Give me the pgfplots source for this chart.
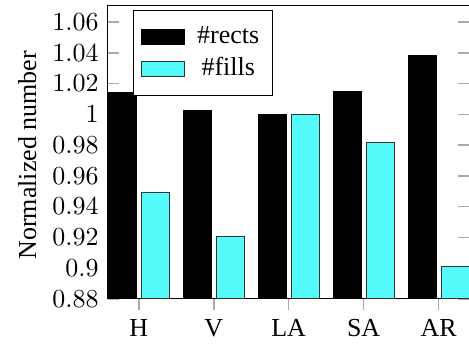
\documentclass[border=0pt]{standalone}
\usepackage{fontspec}
\setmainfont{Liberation Serif}
\usepackage{pgfplots}
\pgfplotsset{compat=1.18}
\definecolor{mycyan}{RGB}{85,250,250}
\definecolor{tickgray}{RGB}{170,170,170}
\begin{document}
\begin{tikzpicture}
\begin{axis}[
  scale only axis,
  width=139.2pt, height=112.7pt,
  ybar=1.9pt, bar width=10.8pt,
  ymin=0.88, ymax=1.0705,
  xmin=-0.413, xmax=4.413,
  xtick=data,
  xticklabels={H,V,LA,SA,AR},
  ytick={0.88,0.9,0.92,0.94,0.96,0.98,1,1.02,1.04,1.06},
  xtick pos=bottom, xtick align=outside,
  ytick align=inside,
  major tick style={tickgray, line width=0.6pt},
  ylabel={Normalized number},
  y label style={at={(axis description cs:-0.223,0.49)}, anchor=center},
  yticklabel style={/pgf/number format/fixed},
  legend style={at={(0.069,0.986)}, anchor=north west, draw=black, row sep=0pt, inner xsep=3pt, inner ysep=4pt, font=\normalsize},
  legend cell align=center,
  legend image code/.code={\draw[#1] (0cm,-2.9pt) rectangle (16.5pt,2.9pt);},
]
\addplot[fill=black, draw=black] coordinates {(0,1.014) (1,1.0026) (2,1.000) (3,1.0149) (4,1.0385)};
\addplot[fill=mycyan, draw=black!80] coordinates {(0,0.9494) (1,0.9205) (2,1.000) (3,0.9816) (4,0.901)};
\legend{\hspace{2.7pt}\#rects\hspace{7.5pt}, \hspace{2.7pt}\#fills\hspace{7.5pt}}
\coordinate (O) at (rel axis cs:0,0);
\coordinate (T) at (rel axis cs:1,1);
\end{axis}
\pgfresetboundingbox
\path[use as bounding box] ([xshift=-41.5pt,yshift=-18.8pt]O) rectangle ([xshift=-0.2pt,yshift=2.3pt]T);
\end{tikzpicture}
\end{document}
